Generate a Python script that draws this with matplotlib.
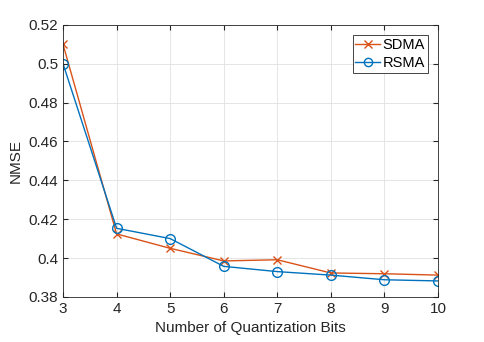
import matplotlib
matplotlib.use('Agg')
import matplotlib.pyplot as plt

bits = [3, 4, 5, 6, 7, 8, 9, 10]
sdma = [0.510, 0.4124, 0.405, 0.3985, 0.3991, 0.3923, 0.3919, 0.3912]
rsma = [0.500, 0.4153, 0.410, 0.3957, 0.3930, 0.3912, 0.3888, 0.3882]

plt.rcParams['font.family'] = ['Liberation Sans', 'DejaVu Sans']

fig = plt.figure(figsize=(4.85, 3.42), dpi=100)
ax = fig.add_axes([0.130, 0.132, 0.773, 0.795])

ax.plot(bits, sdma, color='#D95319', marker='x', markersize=6, linewidth=1, label='SDMA')
ax.plot(bits, rsma, color='#0072BD', marker='o', markersize=7, markerfacecolor='none',
        linewidth=1, label='RSMA')

ax.set_xlim(3, 10)
ax.set_ylim(0.38, 0.52)
ax.set_xticks(bits)
ax.set_yticks([0.38, 0.40, 0.42, 0.44, 0.46, 0.48, 0.50, 0.52])
ax.set_yticklabels(['0.38', '0.4', '0.42', '0.44', '0.46', '0.48', '0.5', '0.52'])
ax.grid(True, color='#e0e0e0', linewidth=0.6)
ax.tick_params(direction='in', top=True, right=True, labelsize=11, colors='#262626', length=3.5)
for s in ax.spines.values():
    s.set_color('#262626')
    s.set_linewidth(0.6)

ax.set_xlabel('Number of Quantization Bits', fontsize=11, color='#262626')
ax.set_ylabel('NMSE', fontsize=11, color='#262626')

leg = ax.legend(loc='upper right', fontsize=10.5, fancybox=False, edgecolor='#262626',
                handlelength=1.7, borderaxespad=0.7, framealpha=1, borderpad=0.2,
                handletextpad=0.15, labelspacing=0.25, markerscale=0.85)
leg.get_frame().set_linewidth(0.6)

plt.savefig('out.png', dpi=100)
